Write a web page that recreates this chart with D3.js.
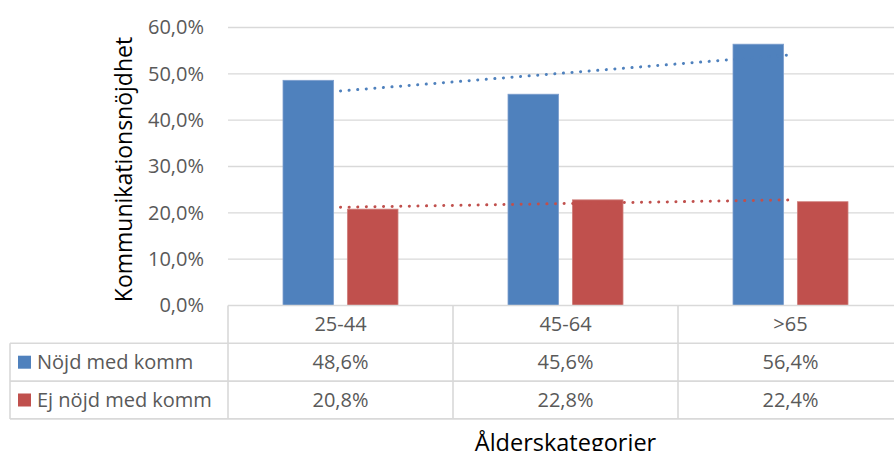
<!DOCTYPE html>
<html>
<head>
<meta charset="utf-8">
<script src="https://cdn.jsdelivr.net/npm/d3@7"></script>
<style>
  body { margin: 0; background: #fff; }
  svg { display: block; font-family: "Open Sans", "Liberation Sans", sans-serif; }
</style>
</head>
<body>
<svg></svg>
<script>
const CATEGORIES = ["25-44", "45-64", ">65"];
const SERIES_NAMES = ["Nöjd med komm", "Ej nöjd med komm"];
const NOJD = [0.486, 0.456, 0.564];
const EJ_NOJD = [0.208, 0.228, 0.224];
const Y_TICKS = [0, 0.1, 0.2, 0.3, 0.4, 0.5, 0.6];
const COLORS = ["#4F81BD", "#C0504D"];

const WIDTH = 894;
const HEIGHT = 451;
const PLOT = {left: 228, right: 903, top: 27.5, bottom: 305.5};
const ROW_H = 37.8;
const FONT = '20px';

const series = [NOJD, EJ_NOJD];
const pct = d3.format(".1%");
const fmt = v => pct(v).replace(".", ",");

const svg = d3.select('svg')
  .attr('width', WIDTH)
  .attr('height', HEIGHT);

const x = d3.scaleBand().domain(CATEGORIES).range([PLOT.left, PLOT.right]);
const y = d3.scaleLinear().domain([0, 0.6]).range([PLOT.bottom, PLOT.top]);
// bars inside each category
const inner = d3.scaleBand().domain([0, 1]).range([0, 115]).paddingInner(0.214);
const barOffset = (x.bandwidth() - 115) / 2;

//gridlines
svg.append('g')
  .selectAll('line')
  .data(Y_TICKS.slice(1))
  .enter()
  .append('line')
  .attr('x1', PLOT.left).attr('x2', PLOT.right)
  .attr('y1', d => y(d)).attr('y2', d => y(d))
  .attr('stroke', '#D9D9D9')
  .attr('stroke-width', 1.4);

//y axis labels
const yAxis = svg.append('g')
  .attr('transform', `translate(${PLOT.left - 10},0)`)
  .call(d3.axisLeft(y).tickValues(Y_TICKS).tickFormat(fmt).tickSize(0).tickPadding(14));
yAxis.select('.domain').remove();
yAxis.selectAll('text')
  .attr('fill', '#595959')
  .style('font-size', FONT)
  .style('font-family', '"Open Sans", sans-serif');

//bars
series.forEach((vals, s) => {
  svg.append('g')
    .selectAll('rect')
    .data(vals)
    .enter()
    .append('rect')
    .attr('x', (d, i) => x(CATEGORIES[i]) + barOffset + inner(s))
    .attr('width', inner.bandwidth())
    .attr('y', d => y(d))
    .attr('height', d => y(0) - y(d))
    .attr('fill', COLORS[s])
    .attr('stroke', s === 0 ? '#7E9FCE' : '#CF7F7C')
    .attr('stroke-width', 0.8);
});

//linear trend lines (least squares over the series)
series.forEach((vals, s) => {
  const xs = vals.map((d, i) => i + 1);
  const mx = d3.mean(xs), my = d3.mean(vals);
  const slope = d3.sum(xs, (xi, i) => (xi - mx) * (vals[i] - my)) / d3.sum(xs, xi => (xi - mx) ** 2);
  const icpt = my - slope * mx;
  const first = CATEGORIES[0], last = CATEGORIES[CATEGORIES.length - 1];
  svg.append('line')
    .attr('x1', x(first) + x.bandwidth() / 2)
    .attr('x2', x(last) + x.bandwidth() / 2)
    .attr('y1', y(icpt + slope * 1))
    .attr('y2', y(icpt + slope * CATEGORIES.length))
    .attr('stroke', COLORS[s])
    .attr('stroke-width', 3)
    .attr('stroke-linecap', 'round')
    .attr('stroke-dasharray', '0.1 8.5');
});

//data table
const grid = svg.append('g').attr('stroke', '#D9D9D9').attr('stroke-width', 1.6);
const tableBottom = PLOT.bottom + ROW_H * 3;
// horizontal rules
grid.append('line').attr('x1', PLOT.left).attr('x2', PLOT.right)
  .attr('y1', PLOT.bottom).attr('y2', PLOT.bottom);
[1, 2, 3].forEach(r => {
  grid.append('line').attr('x1', 10).attr('x2', PLOT.right)
    .attr('y1', PLOT.bottom + ROW_H * r).attr('y2', PLOT.bottom + ROW_H * r);
});
// vertical rules
grid.append('line').attr('x1', 10).attr('x2', 10)
  .attr('y1', PLOT.bottom + ROW_H).attr('y2', tableBottom);
CATEGORIES.concat(['end']).forEach((c, i) => {
  const xx = PLOT.left + i * x.bandwidth();
  grid.append('line').attr('x1', xx).attr('x2', xx)
    .attr('y1', PLOT.bottom).attr('y2', tableBottom);
});

const cellText = svg.append('g')
  .attr('fill', '#595959')
  .attr('text-anchor', 'middle')
  .style('font-size', FONT);

cellText.selectAll('.cat')
  .data(CATEGORIES)
  .enter()
  .append('text')
  .attr('x', d => x(d) + x.bandwidth() / 2)
  .attr('y', PLOT.bottom + ROW_H / 2)
  .attr('dy', '0.35em')
  .text(d => d);

series.forEach((vals, s) => {
  cellText.append('g')
    .selectAll('text')
    .data(vals)
    .enter()
    .append('text')
    .attr('x', (d, i) => x(CATEGORIES[i]) + x.bandwidth() / 2)
    .attr('y', PLOT.bottom + ROW_H * (s + 1.5))
    .attr('dy', '0.35em')
    .text(d => fmt(d));
});

//legend keys in the table
SERIES_NAMES.forEach((name, s) => {
  const cy = PLOT.bottom + ROW_H * (s + 1.5);
  svg.append('rect')
    .attr('x', 18).attr('y', cy - 6.5)
    .attr('width', 13).attr('height', 13)
    .attr('fill', COLORS[s]);
  svg.append('text')
    .attr('x', 37).attr('y', cy)
    .attr('dy', '0.35em')
    .attr('fill', '#595959')
    .style('font-size', FONT)
    .text(name);
});

//axis titles
svg.append('text')
  .attr('transform', `translate(132,${(PLOT.top + PLOT.bottom) / 2 + 3}) rotate(-90)`)
  .attr('text-anchor', 'middle')
  .attr('fill', '#000')
  .style('font-size', '23px')
  .text('Kommunikationsnöjdhet');

svg.append('text')
  .attr('x', (PLOT.left + PLOT.right) / 2)
  .attr('y', 451)
  .attr('text-anchor', 'middle')
  .attr('fill', '#000')
  .style('font-size', '23.5px')
  .text('Ålderskategorier');
</script>
</body>
</html>
